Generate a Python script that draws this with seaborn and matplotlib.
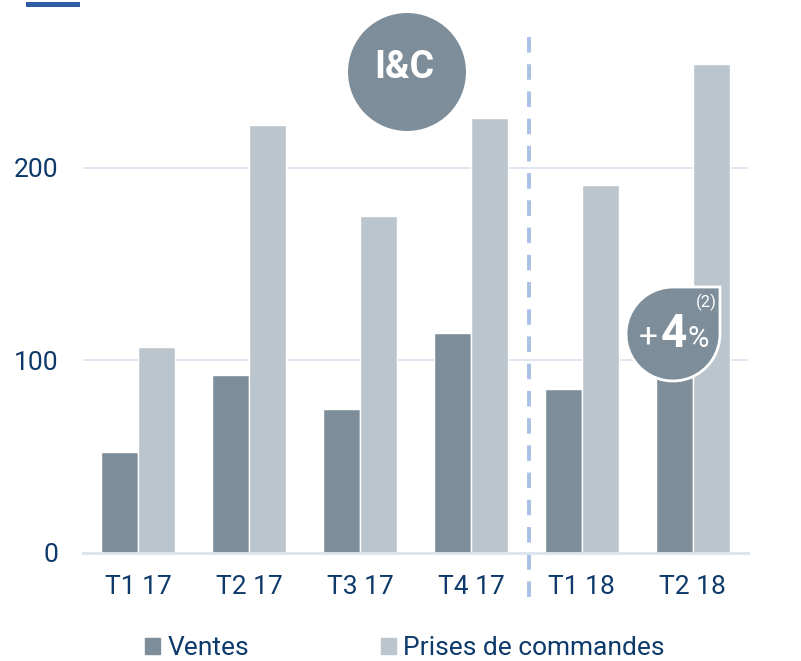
import pandas as pd
import matplotlib
matplotlib.use("Agg")
import matplotlib.pyplot as plt
import seaborn as sns
from matplotlib.patches import Circle, Rectangle, PathPatch, Patch
from matplotlib.path import Path
from matplotlib.transforms import Affine2D

# -----------------------------
# Data
# -----------------------------
quarters = ["T1 17", "T2 17", "T3 17", "T4 17", "T1 18", "T2 18"]
ventes = [52.5, 92.5, 75, 114, 85, 96]
prises = [107, 222, 175, 226, 191, 254]
series = ["Ventes", "Prises de commandes"]
y_ticks = [0, 100, 200]

df = pd.DataFrame({
    "Trimestre": quarters * 2,
    "Valeur": ventes + prises,
    "Serie": [series[0]] * len(quarters) + [series[1]] * len(quarters),
})

# colours
dark = "#7d8e9a"
light = "#bbc5cd"
navy = "#0d3a6a"
grid_col = "#dce4ef"
dash_col = "#a9c1e5"

sns.set_style("white")
plt.rcParams["font.family"] = ["Roboto", "DejaVu Sans"]

W, H = 801, 661
fig = plt.figure(figsize=(W / 100, H / 100), dpi=100)


def fx(x):
    return x / W


def fy(y):
    return 1 - y / H


ax = fig.add_axes([fx(83), fy(553), (748 - 83) / W, (553 - 33) / H])
sns.barplot(data=df, x="Trimestre", y="Valeur", hue="Serie",
            palette=[dark, light], width=0.667, gap=0, saturation=1,
            legend=False, ax=ax)

ax.set_xlim(-0.5, len(quarters) - 0.5)
ax.set_ylim(0, 270)
ax.set_yticks(y_ticks)
ax.set_xlabel("")
ax.set_ylabel("")
ax.set_axisbelow(True)
for v in y_ticks[1:]:
    ax.axhline(v, color=grid_col, lw=1.3, zorder=0)
for s in ["top", "right", "left"]:
    ax.spines[s].set_visible(False)
ax.spines["bottom"].set_color(grid_col)
ax.spines["bottom"].set_linewidth(2)
ax.tick_params(axis="both", length=0, labelsize=19, labelcolor=navy)
ax.tick_params(axis="y", pad=18)
ax.tick_params(axis="x", pad=16)

# separator between 2017 and 2018
ax.axvline(3.52, ymin=-0.085, ymax=0.995, clip_on=False, color=dash_col,
           lw=2.8, dashes=(4, 3), zorder=1)

# top-left accent bar
fig.add_artist(Rectangle((fx(26), fy(7)), 54 / W, 5 / H,
                         transform=fig.transFigure, color="#2e5da5", lw=0))

# I&C circle
fig.add_artist(Circle((4.07, (H - 72) / 100), 0.59, transform=fig.dpi_scale_trans,
                      color=dark, lw=0, zorder=5))
fig.text(fx(404), fy(68), "I&C", color="white", fontsize=27, fontweight="bold",
         ha="center", va="center", zorder=6)

# +4% badge (circle with a square top-right corner)
arc = Path.arc(90, 360)
verts = list(arc.vertices) + [(1, 1), (0, 1)]
codes = list(arc.codes) + [Path.LINETO, Path.CLOSEPOLY]
badge = Path(verts, codes)
cx, cy, r = 6.73, (H - 334) / 100, 0.47
tr = Affine2D().scale(r).translate(cx, cy) + fig.dpi_scale_trans
fig.add_artist(PathPatch(badge, transform=tr, facecolor=dark, edgecolor="white",
                         lw=2, zorder=5))
fig.text(fx(648), fy(338), "+", color="white", fontsize=24,
         ha="center", va="center", zorder=6)
fig.text(fx(674), fy(334), "4", color="white", fontsize=33, fontweight="bold",
         ha="center", va="center", zorder=6)
fig.text(fx(698), fy(339), "%", color="white", fontsize=21,
         ha="center", va="center", zorder=6)
fig.text(fx(706), fy(302), "(2)", color="white", fontsize=12,
         ha="center", va="center", zorder=6)

# legend
handles = [Patch(color=dark, label=series[0]), Patch(color=light, label=series[1])]
fig.legend(handles=handles, loc="center", bbox_to_anchor=(fx(405), fy(648)),
           ncol=2, frameon=False, fontsize=19, handlelength=0.55,
           handleheight=0.55, handletextpad=0.3, columnspacing=5,
           labelcolor=navy, borderaxespad=0, borderpad=0)

fig.savefig("out.png", dpi=100)
